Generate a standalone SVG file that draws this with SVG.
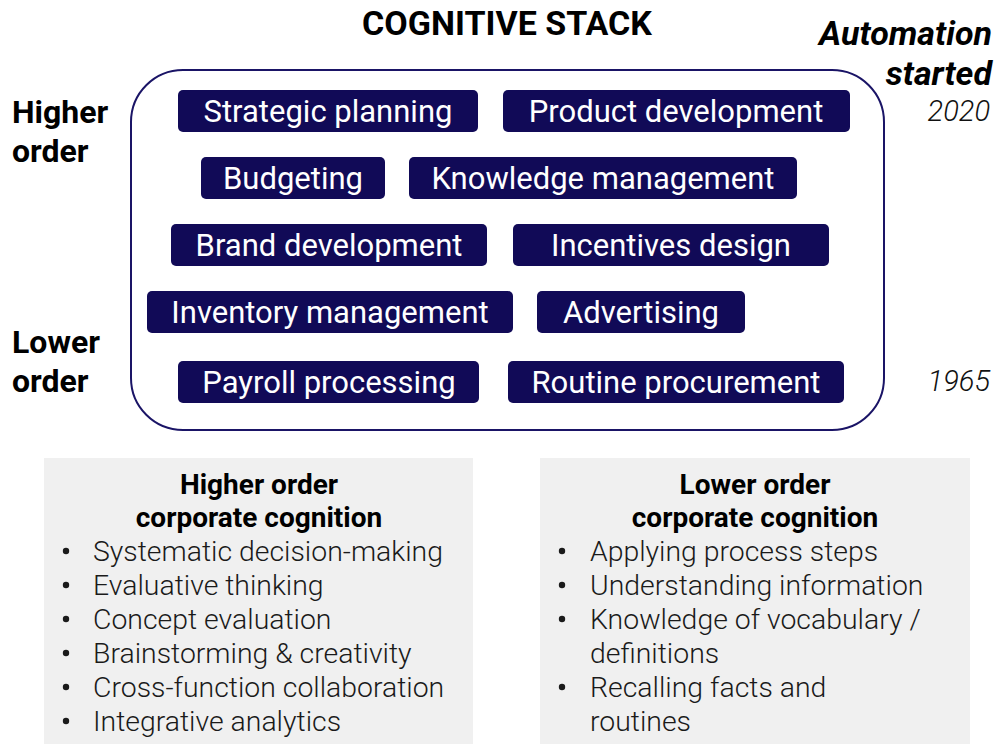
<svg xmlns="http://www.w3.org/2000/svg" width="998" height="744" viewBox="0 0 998 744">
<style>
.box{fill:#110a57}
.bt{font-family:Roboto,"Liberation Sans",sans-serif;font-size:31px;fill:#fff;text-anchor:middle}
.side{font-family:Roboto,"Liberation Sans",sans-serif;font-size:32px;font-weight:bold;fill:#000}
.auto{font-family:Roboto,"Liberation Sans",sans-serif;font-size:34px;font-weight:bold;font-style:italic;fill:#000;text-anchor:end}
.yr{font-family:Roboto,"Liberation Sans",sans-serif;font-size:29px;font-style:italic;fill:#111;text-anchor:end;font-weight:300}
.panel{fill:#f0f0f0}
.ph{font-family:Roboto,"Liberation Sans",sans-serif;font-size:28px;font-weight:bold;fill:#000;text-anchor:middle}
.li{font-family:Roboto,"Liberation Sans",sans-serif;font-size:28.4px;font-weight:300;fill:#1a1a1a}
.dot{fill:#1a1a1a}
</style>
<text x="507" y="35" font-family="Roboto, 'Liberation Sans', sans-serif" font-size="34" font-weight="bold" text-anchor="middle">COGNITIVE STACK</text>
<text class="auto" x="992" y="45">Automation</text>
<text class="auto" x="992" y="85">started</text>
<text class="yr" x="990" y="121">2020</text>
<text class="yr" x="990" y="391">1965</text>
<text class="side" x="12" y="123">Higher</text>
<text class="side" x="12" y="162">order</text>
<text class="side" x="12" y="353">Lower</text>
<text class="side" x="12" y="392">order</text>
<g id="stack">
<rect x="131" y="70" width="753" height="360" rx="52" fill="none" stroke="#1a1466" stroke-width="2"/>
</g>
<g id="strategic-planning"><rect class="box" x="178" y="90" width="300" height="42" rx="5"/><text class="bt" x="328" y="122">Strategic planning</text></g>
<g id="product-development"><rect class="box" x="503" y="90" width="347" height="42" rx="5"/><text class="bt" x="676" y="122">Product development</text></g>
<g id="budgeting"><rect class="box" x="201" y="157" width="184" height="42" rx="5"/><text class="bt" x="293" y="189">Budgeting</text></g>
<g id="knowledge-management"><rect class="box" x="409" y="157" width="388" height="42" rx="5"/><text class="bt" x="603" y="189">Knowledge management</text></g>
<g id="brand-development"><rect class="box" x="171" y="224" width="316" height="42" rx="5"/><text class="bt" x="329" y="256">Brand development</text></g>
<g id="incentives-design"><rect class="box" x="513" y="224" width="316" height="42" rx="5"/><text class="bt" x="671" y="256">Incentives design</text></g>
<g id="inventory-management"><rect class="box" x="147" y="291" width="366" height="42" rx="5"/><text class="bt" x="330" y="323">Inventory management</text></g>
<g id="advertising"><rect class="box" x="537" y="291" width="208" height="42" rx="5"/><text class="bt" x="641" y="323">Advertising</text></g>
<g id="payroll-processing"><rect class="box" x="178" y="361" width="301" height="42" rx="5"/><text class="bt" x="329" y="393">Payroll processing</text></g>
<g id="routine-procurement"><rect class="box" x="508" y="361" width="336" height="42" rx="5"/><text class="bt" x="676" y="393">Routine procurement</text></g>
<g id="connectors"></g>
<g id="higher-panel">
<rect class="panel" x="44" y="458" width="429" height="286"/>
<text class="ph" x="259" y="494">Higher order</text>
<text class="ph" x="259" y="527">corporate cognition</text>
<g class="dot">
<circle cx="66" cy="551" r="3.2"/><circle cx="66" cy="585" r="3.2"/><circle cx="66" cy="619" r="3.2"/>
<circle cx="66" cy="653" r="3.2"/><circle cx="66" cy="687" r="3.2"/><circle cx="66" cy="721" r="3.2"/>
</g>
<g class="li">
<text x="93" y="561">Systematic decision-making</text>
<text x="93" y="595">Evaluative thinking</text>
<text x="93" y="629">Concept evaluation</text>
<text x="93" y="663">Brainstorming &amp; creativity</text>
<text x="93" y="697">Cross-function collaboration</text>
<text x="93" y="731">Integrative analytics</text>
</g>
</g>
<g id="lower-panel">
<rect class="panel" x="540" y="458" width="430" height="286"/>
<text class="ph" x="755" y="494">Lower order</text>
<text class="ph" x="755" y="527">corporate cognition</text>
<g class="dot">
<circle cx="562" cy="551" r="3.2"/><circle cx="562" cy="585" r="3.2"/><circle cx="562" cy="619" r="3.2"/>
<circle cx="562" cy="687" r="3.2"/>
</g>
<g class="li">
<text x="590" y="561">Applying process steps</text>
<text x="590" y="595">Understanding information</text>
<text x="590" y="629">Knowledge of vocabulary /</text>
<text x="590" y="663">definitions</text>
<text x="590" y="697">Recalling facts and</text>
<text x="590" y="731">routines</text>
</g>
</g>
</svg>
